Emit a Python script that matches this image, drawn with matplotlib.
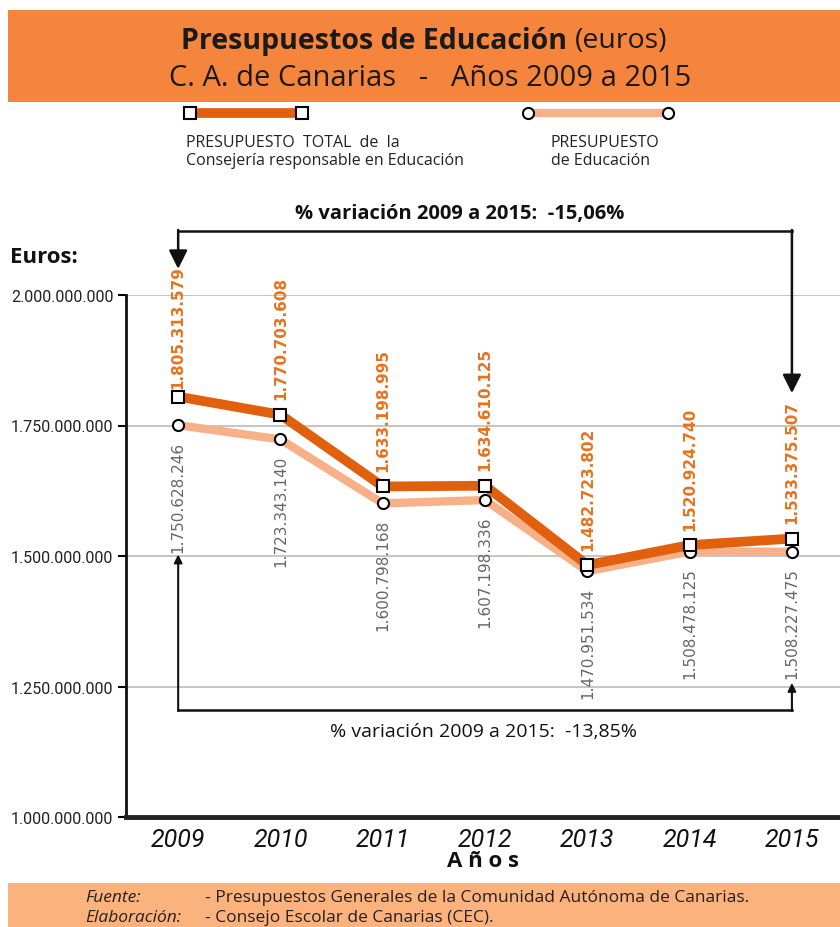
import matplotlib.pyplot as plt
from matplotlib.patches import Rectangle
from matplotlib.lines import Line2D

# data
years = [2009, 2010, 2011, 2012, 2013, 2014, 2015]
total = [1805313579, 1770703608, 1633198995, 1634610125, 1482723802, 1520924740, 1533375507]
educacion = [1750628246, 1723343140, 1600798168, 1607198336, 1470951534, 1508478125, 1508227475]
yticks = [1000000000, 1250000000, 1500000000, 1750000000, 2000000000]


def fmt(v):
    return f"{v:,}".replace(",", ".")


DARK = "#E1600E"
LIGHT = "#F8B088"
ORANGE_TXT = "#E8721E"
HEADER = "#F5853D"
FOOTER = "#FCB27C"
NARROW = ["Roboto", "DejaVu Sans"]
OPEN = ["Open Sans", "DejaVu Sans"]

fig = plt.figure(figsize=(8.4, 9.28), dpi=100)

# background layer in pixel coordinates for header / legend / footer
bg = fig.add_axes([0, 0, 1, 1])
bg.set_xlim(0, 840)
bg.set_ylim(928, 0)
bg.axis("off")
bg.add_patch(Rectangle((8, 11), 832, 92, color=HEADER, lw=0))
bg.add_patch(Rectangle((8, 884), 832, 44, color=FOOTER, lw=0))

bg.text(567, 41, "Presupuestos de Educación", ha="right", va="center",
        fontsize=20.5, fontweight="bold", family=OPEN, color="#1a1a1a")
bg.text(575, 41, "(euros)", ha="left", va="center",
        fontsize=20.5, family=OPEN, color="#1a1a1a")
bg.text(430, 78, "C. A. de Canarias   -   Años 2009 a 2015", ha="center", va="center",
        fontsize=21, family=OPEN, color="#1a1a1a")

# legend samples
bg.add_line(Line2D([190, 302], [114, 114], color=DARK, lw=7, marker="s",
                   markersize=8, markerfacecolor="white", markeredgecolor="black",
                   markeredgewidth=1.5, solid_capstyle="butt"))
bg.add_line(Line2D([528, 668], [114, 114], color=LIGHT, lw=6, marker="o",
                   markersize=8, markerfacecolor="white", markeredgecolor="black",
                   markeredgewidth=1.5, solid_capstyle="butt"))
bg.text(186, 152, "PRESUPUESTO  TOTAL  de  la\nConsejería responsable en Educación",
        ha="left", va="center", fontsize=11.5, family=OPEN, color="#222222",
        linespacing=1.1)
bg.text(551, 152, "PRESUPUESTO\nde Educación", ha="left", va="center",
        fontsize=11.5, family=OPEN, color="#222222", linespacing=1.1)

bg.text(10, 258, "Euros:", ha="left", va="center", fontsize=16,
        fontweight="bold", family=OPEN, color="#111111")

bg.text(460, 214, "% variación 2009 a 2015:  -15,06%", ha="center", va="center",
        fontsize=14.5, fontweight="bold", family=OPEN, color="#111111")
bg.text(484, 732, "% variación 2009 a 2015:  -13,85%", ha="center", va="center",
        fontsize=14, family=OPEN, color="#111111")
bg.text(483, 862, "A ñ o s", ha="center", va="center", fontsize=16,
        fontweight="bold", family=OPEN, color="#111111")

bg.text(85, 898, "Fuente:", ha="left", va="center", fontsize=12.5,
        style="italic", family=OPEN, color="#222222")
bg.text(85, 918, "Elaboración:", ha="left", va="center", fontsize=12.5,
        style="italic", family=OPEN, color="#222222")
bg.text(205, 898, "- Presupuestos Generales de la Comunidad Autónoma de Canarias.",
        ha="left", va="center", fontsize=12.5, family=OPEN, color="#222222")
bg.text(205, 918, "- Consejo Escolar de Canarias (CEC).",
        ha="left", va="center", fontsize=12.5, family=OPEN, color="#222222")

# main chart
ax = fig.add_axes([126 / 840, 1 - 818 / 928, 1 - 126 / 840, (818 - 296) / 928])
ax.patch.set_alpha(0)
ax.set_xlim(2008.49, 2015.47)
ax.set_ylim(1e9, 2e9)
ax.set_yticks(yticks)
ax.set_yticklabels([fmt(v) for v in yticks], family=NARROW, fontsize=11.5, color="#222222")
ax.set_xticks(years)
ax.set_xticklabels([str(y) for y in years], family=NARROW, fontsize=18,
                   style="italic", color="#111111")
ax.tick_params(axis="x", length=0, pad=7)
ax.tick_params(axis="y", length=6, width=1.5, direction="out", pad=3)
for g in yticks[1:]:
    ax.axhline(g, color="#BBBBBB", lw=1.2, zorder=0)
for s in ["top", "right"]:
    ax.spines[s].set_visible(False)
ax.spines["left"].set_linewidth(2)
ax.spines["left"].set_color("#111111")
ax.spines["bottom"].set_linewidth(3.5)
ax.spines["bottom"].set_color("#222222")

ax.plot(years, educacion, color=LIGHT, lw=6, marker="o", markersize=8,
        markerfacecolor="white", markeredgecolor="black", markeredgewidth=1.5, zorder=3)
ax.plot(years, total, color=DARK, lw=7, marker="s", markersize=8,
        markerfacecolor="white", markeredgecolor="black", markeredgewidth=1.5, zorder=4)

for i, (x, t, e) in enumerate(zip(years, total, educacion)):
    up = 6 if i == 0 else 11
    ax.annotate(fmt(t), (x, t), xytext=(0, up), textcoords="offset points",
                rotation=90, ha="center", va="bottom", fontsize=11,
                fontweight="bold", color=ORANGE_TXT, zorder=6)
    ax.annotate(fmt(e), (x, e), xytext=(0, -11), textcoords="offset points",
                rotation=90, ha="center", va="top", fontsize=11,
                color="#666666", zorder=6)

# variation brackets
top_y = 2.1226e9
ax.plot([years[0], years[-1]], [top_y, top_y], color="#111111", lw=1.8, clip_on=False)
ax.annotate("", xy=(years[0], 2.05e9), xytext=(years[0], top_y + 0.002e9),
            arrowprops=dict(arrowstyle="-|>", mutation_scale=28, color="#111111",
                            lw=1.8, shrinkA=0, shrinkB=0), annotation_clip=False)
ax.annotate("", xy=(years[-1], 1.812e9), xytext=(years[-1], top_y + 0.002e9),
            arrowprops=dict(arrowstyle="-|>", mutation_scale=28, color="#111111",
                            lw=1.8, shrinkA=0, shrinkB=0), annotation_clip=False)

bot_y = 1.205e9
ax.plot([years[0], years[-1]], [bot_y, bot_y], color="#111111", lw=1.8, zorder=5)
ax.annotate("", xy=(years[0], 1.503e9), xytext=(years[0], bot_y - 0.002e9),
            arrowprops=dict(arrowstyle="-|>", mutation_scale=12, color="#111111",
                            lw=1.5, shrinkA=0, shrinkB=0))
ax.annotate("", xy=(years[-1], 1.257e9), xytext=(years[-1], bot_y - 0.002e9),
            arrowprops=dict(arrowstyle="-|>", mutation_scale=12, color="#111111",
                            lw=1.5, shrinkA=0, shrinkB=0))

fig.savefig("out.png", dpi=100)
